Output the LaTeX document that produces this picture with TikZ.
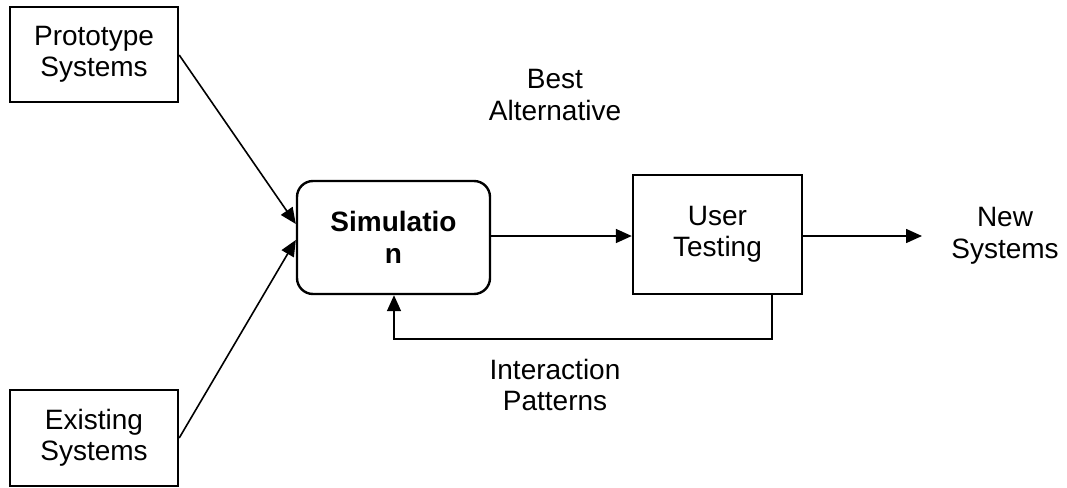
\documentclass[tikz,border=0pt]{standalone}
\usepackage{fontspec}
\setmainfont{Liberation Sans}
\usetikzlibrary{arrows.meta}
\begin{document}
\begin{tikzpicture}[x=1pt,y=-1pt,
  every node/.style={font=\fontsize{28}{31.5}\selectfont, align=center},
  box/.style={draw, line width=2.4pt, inner sep=0pt},
  simbox/.style={box, rounded corners=16pt},
  label/.style={inner sep=0pt},
  link/.style={line width=1.6pt, -{Triangle[length=16pt,width=14pt]}}]
\useasboundingbox (0,0) rectangle (1067,487);
% source boxes
\node[box, minimum width=168pt, minimum height=95pt] (proto) at (94,54.5) {Prototype\\Systems};
\node[box, minimum width=168pt, minimum height=96pt] (exist) at (94,438) {Existing\\Systems};
% process boxes
\node[simbox, minimum width=193pt, minimum height=113pt] (sim) at (393.5,237.5) {\bfseries Simulatio\\\bfseries n};
\node[box, minimum width=169pt, minimum height=119pt] (user) at (717.5,234.5) {User\\Testing};
% free labels
\node[label] (best) at (555,95) {Best\\Alternative};
\node[label] (inter) at (555,385) {Interaction\\Patterns};
\node[label] (new) at (1005,236) {New\\Systems};
\coordinate (newin) at (922,236);
\coordinate (fbR) at (772,339);
\coordinate (fbL) at (394,339);
% connectors
\draw[link] (proto.east |- 0,55) -- (sim.west |- 0,224);
\draw[link] (exist.east |- 0,438) -- (sim.west |- 0,240);
\draw[link] (sim.east |- 0,236) -- (user.west |- 0,236);
\draw[link] (user.east |- 0,236) -- (newin);
\draw[link] (user.south -| fbR) -- (fbR) -- (fbL) -- (sim.south -| fbL);
\end{tikzpicture}
\end{document}
